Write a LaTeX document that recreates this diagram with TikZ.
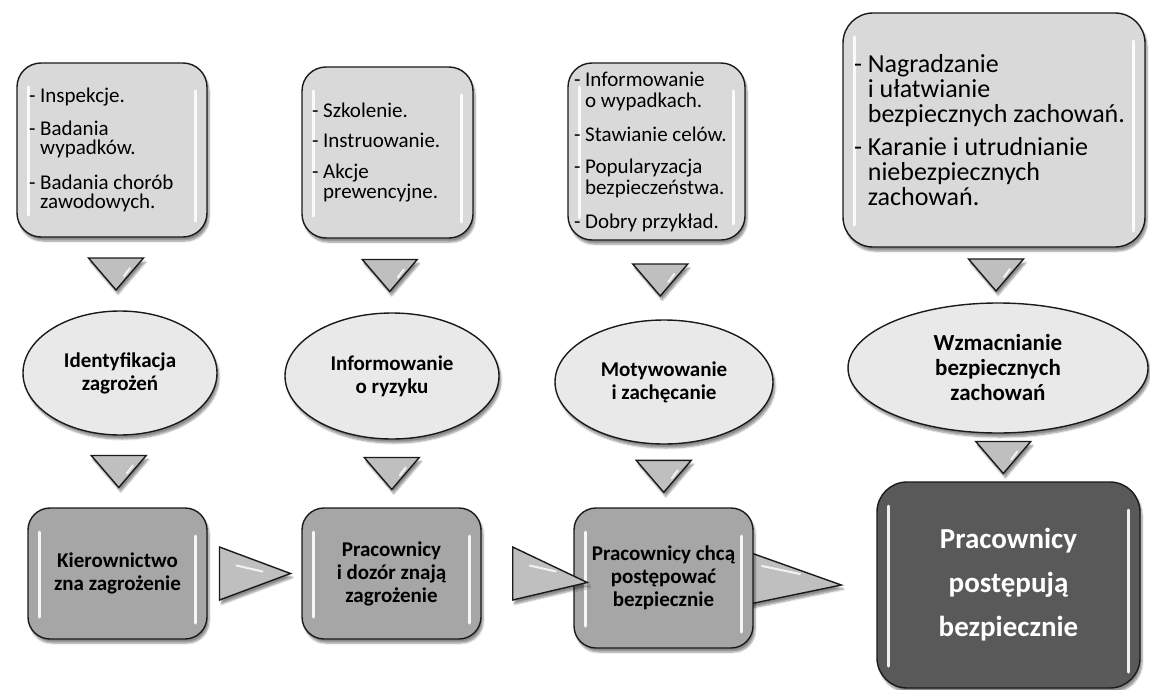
\documentclass[tikz,border=0pt]{standalone}
\usepackage{fontspec}
\setmainfont{Carlito}
\usetikzlibrary{shapes.geometric,shadows.blur,calc}
\definecolor{topfill}{HTML}{D9D9D9}
\definecolor{ellfill}{HTML}{E9E9E9}
\definecolor{midfill}{HTML}{A6A6A6}
\definecolor{darkfill}{HTML}{595959}
\definecolor{trifill}{HTML}{BFBFBF}
\definecolor{edge}{HTML}{1A1A1A}
\newcommand{\ind}{\phantom{- }}
\begin{document}
\begin{tikzpicture}[x=1pt,y=-1pt,
  shad/.style={blur shadow={shadow blur steps=6, shadow xshift=2pt, shadow yshift=-4pt, shadow opacity=45}},
  gloss/.style={path picture={
    \draw[white, line width=3pt, line cap=round, opacity=.9]
      ([xshift=11pt,yshift=-24pt]path picture bounding box.north west) --
      ([xshift=11pt,yshift=22pt]path picture bounding box.south west);
    \draw[white, line width=3pt, line cap=round, opacity=.9]
      ([xshift=-12pt,yshift=-28pt]path picture bounding box.north east) --
      ([xshift=-12pt,yshift=16pt]path picture bounding box.south east);
  }},
  topbox/.style={draw=edge, line width=1.4pt, fill=topfill, rounded corners=24pt,
    shad, gloss, align=flush left, inner ysep=0pt,
    font=\fontsize{21}{19}\selectfont},
  ellbox/.style={ellipse, draw=edge, line width=1.4pt, fill=ellfill, shad,
    align=center, inner sep=0pt, font=\bfseries\fontsize{21}{23}\selectfont},
  botbox/.style={draw=edge, line width=1.4pt, fill=midfill, rounded corners=22pt,
    shad, gloss, align=center, inner sep=0pt, font=\bfseries\fontsize{21}{23}\selectfont},
  darkbox/.style={draw=edge, line width=1.4pt, fill=darkfill, rounded corners=30pt,
    shad, gloss, align=center, inner sep=0pt, text=white,
    font=\bfseries\fontsize{29}{44}\selectfont},
  tri/.style={draw=edge, line width=1.4pt, fill=trifill, line join=miter, shad},
  glint/.style={white, line width=2pt, line cap=round, opacity=.8}
]
\useasboundingbox (0,0) rectangle (1150,690);

% top boxes
\node[topbox, minimum width=190pt, minimum height=174pt, text width=166pt, inner xsep=12pt]
  (tb1) at (112,150) {- Inspekcje.\\[14pt]- Badania\\\ind wypadków.\\[16pt]- Badania chorób\\\ind zawodowych.};
\node[topbox, minimum width=171pt, minimum height=171pt, text width=151pt, inner xsep=10pt,
  font=\fontsize{21}{20}\selectfont]
  (tb2) at (387.5,152.5) {- Szkolenie.\\[10pt]- Instruowanie.\\[11pt]- Akcje\\\ind prewencyjne.};
\node[topbox, minimum width=177pt, minimum height=177pt, text width=165pt, inner xsep=6pt,
  font=\fontsize{21}{21}\selectfont]
  (tb3) at (656.5,151.5) {- Informowanie\\\ind o wypadkach.\\[13pt]- Stawianie celów.\\[11pt]- Popularyzacja\\\ind bezpieczeństwa.\\[13pt]- Dobry przykład.};
\node[topbox, minimum width=302pt, minimum height=234pt, text width=280pt, inner xsep=11pt,
  rounded corners=30pt, font=\fontsize{26}{25}\selectfont]
  (tb4) at (994,130) {- Nagradzanie\\\ind i ułatwianie\\\ind bezpiecznych zachowań.\\[8pt]- Karanie i utrudnianie\\\ind niebezpiecznych\\\ind zachowań.};

% ellipses
\node[ellbox, minimum width=194pt, minimum height=124pt] (e1) at (120,373) {Identyfikacja\\zagrożeń};
\node[ellbox, minimum width=214pt, minimum height=126pt] (e2) at (392,376) {Informowanie\\o ryzyku};
\node[ellbox, minimum width=218pt, minimum height=124pt] (e3) at (664,382) {Motywowanie\\i zachęcanie};
\node[ellbox, minimum width=300pt, minimum height=130pt, font=\bfseries\fontsize{23}{25}\selectfont]
  (e4) at (998,368) {Wzmacnianie\\bezpiecznych\\zachowań};

% down triangles
\foreach \a/\b/\n in {tb1/e1/d1, tb2/e2/d2, tb3/e3/d3, tb4/e4/d4} {
  \coordinate (\n) at ($(\a.south)!0.5!(\b.north)$);
  \draw[tri] ([xshift=-27.5pt,yshift=16pt]\n) -- ([xshift=27.5pt,yshift=16pt]\n) -- ([yshift=-16pt]\n) -- cycle;
  \draw[glint] ([xshift=14pt,yshift=6pt]\n) -- ([xshift=8pt,yshift=-2pt]\n);
}

% bottom boxes
\node[botbox, minimum width=179pt, minimum height=131pt] (b1) at (117.5,573.5) {Kierownictwo\\zna zagrożenie};
\node[botbox, minimum width=179pt, minimum height=131pt] (b2) at (391.5,573.5) {Pracownicy\\i dozór znają\\zagrożenie};
\node[darkbox, minimum width=263pt, minimum height=206pt] (b4) at (1008.5,585) {Pracownicy\\postępują\\bezpiecznie};

% lower down triangles
\foreach \a/\b/\n in {e1/b1/u1, e2/b2/u2, e4/b4/u4} {
  \coordinate (\n) at ($(\a.south)!0.5!(\b.north)$);
  \draw[tri] ([xshift=-27.5pt,yshift=16pt]\n) -- ([xshift=27.5pt,yshift=16pt]\n) -- ([yshift=-16pt]\n) -- cycle;
  \draw[glint] ([xshift=14pt,yshift=6pt]\n) -- ([xshift=8pt,yshift=-2pt]\n);
}
\coordinate (b3top) at (663.5,508);
\coordinate (u3) at ($(e3.south)!0.5!(b3top)$);
\draw[tri] ([xshift=-27.5pt,yshift=16pt]u3) -- ([xshift=27.5pt,yshift=16pt]u3) -- ([yshift=-16pt]u3) -- cycle;
\draw[glint] ([xshift=14pt,yshift=6pt]u3) -- ([xshift=8pt,yshift=-2pt]u3);

% right triangle behind b3
\coordinate (r3tip) at ([xshift=-35pt]b4.west);
\draw[tri] (740,549) -- (740,606) -- (r3tip) -- cycle;
\draw[glint] (762,566) -- (800,574);

\node[botbox, minimum width=179pt, minimum height=140pt] (b3) at (663.5,578) {Pracownicy chcą\\postępować\\bezpiecznie};

% right triangles
\coordinate (r1) at ($(b1.east)!0.5!(b2.west)$);
\draw[tri] ([xshift=-35pt,yshift=26.5pt]r1) -- ([xshift=-35pt,yshift=-26.5pt]r1) -- ([xshift=36pt]r1) -- cycle;
\draw[glint] ([xshift=-18pt,yshift=8pt]r1) -- ([xshift=8pt,yshift=2pt]r1);
\draw[tri] ([xshift=31pt,yshift=26.5pt]b2.east) -- ([xshift=31pt,yshift=-26.5pt]b2.east) -- ([xshift=14pt,yshift=-4.5pt]b3.west) -- cycle;
\draw[glint] ([xshift=48pt,yshift=8pt]b2.east) -- ([xshift=74pt,yshift=2pt]b2.east);
\end{tikzpicture}
\end{document}
